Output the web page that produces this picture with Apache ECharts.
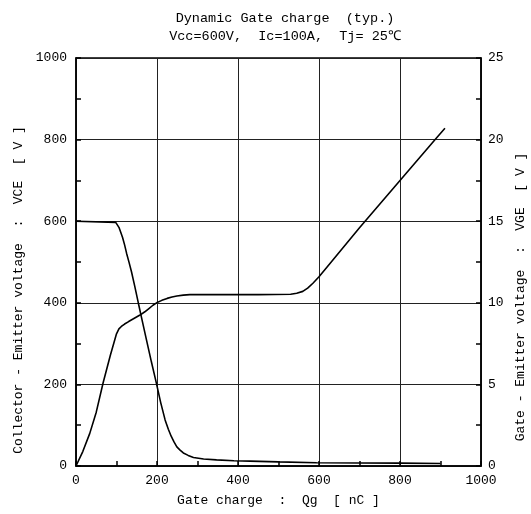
<!DOCTYPE html>
<html style="height: 100%; margin: 0;">
<head>
<meta charset="utf-8" />
<title>Dynamic Gate charge</title>
<script src="https://cdn.jsdelivr.net/npm/echarts@6/dist/echarts.min.js"></script>
</head>
<body style="height: 100%; margin: 0; background: #fff;">
<div id="main" style="width: 531px; height: 514px;"></div>
<script type="text/javascript">
// VCE (left axis, V) vs gate charge (nC)
var vceQg = [0, 98, 102, 106, 110, 115, 120, 125, 131, 137, 145, 154, 164, 174, 186, 198, 209, 220, 228, 235, 242, 249, 257, 265, 277, 290, 315, 347, 390, 430, 500, 594, 700, 800, 900];
var vceVal = [600, 597, 593, 585, 574, 560, 542, 521, 499, 476, 441, 399, 354, 309, 256, 205, 156, 113, 90, 73, 59, 47, 39, 32, 26, 21, 17, 15, 13, 12, 10, 8, 7.5, 7, 6];
// VGE (right axis, V) vs gate charge (nC)
var vgeQg = [0, 17, 34, 50, 67, 85, 100, 106, 112, 120, 130, 144, 158, 170, 180, 190, 199, 212, 225, 237, 249, 265, 281, 350, 450, 530, 545, 560, 572, 585, 600, 620, 700, 800, 890, 911];
var vgeVal = [0, 0.9, 2.0, 3.3, 5.1, 6.8, 8.1, 8.4, 8.55, 8.7, 8.85, 9.05, 9.25, 9.45, 9.65, 9.85, 10.0, 10.15, 10.27, 10.35, 10.42, 10.47, 10.5, 10.5, 10.5, 10.52, 10.58, 10.7, 10.9, 11.2, 11.6, 12.2, 14.6, 17.5, 20.1, 20.7];

function pairs(xs, ys) {
  var out = [];
  for (var i = 0; i < xs.length; i++) out.push([xs[i], ys[i]]);
  return out;
}
function plain(v) { return String(v); }

var font = 'Liberation Mono';
var tickStyle = { color: '#000', width: 1.5 };
var myChart = echarts.init(document.getElementById('main'));
myChart.setOption({
  backgroundColor: '#fff',
  animation: false,
  title: {
    text: 'Dynamic Gate charge  (typ.)\nVcc=600V,  Ic=100A,  Tj= 25\u2103',
    left: 280,
    textAlign: 'center',
    top: 4,
    textStyle: { fontFamily: font, fontSize: 13.5, fontWeight: 'normal', color: '#000', lineHeight: 18 }
  },
  grid: { left: 76, right: 50, top: 58, bottom: 48, outerBoundsMode: 'none', show: true, borderColor: '#000', borderWidth: 1.5 },
  xAxis: {
    type: 'value', min: 0, max: 1000, interval: 200,
    name: 'Gate charge  :  Qg  [ nC ]', nameLocation: 'middle', nameGap: 28,
    nameTextStyle: { fontFamily: font, fontSize: 13, color: '#000' },
    axisLine: { lineStyle: { color: '#000', width: 1.5 } },
    axisTick: { show: true, inside: true, length: 5, lineStyle: tickStyle },
    minorTick: { show: true, splitNumber: 2, length: 5, lineStyle: tickStyle },
    axisLabel: { fontFamily: font, fontSize: 13, color: '#000', margin: 8, formatter: plain },
    splitLine: { show: true, lineStyle: { color: '#222', width: 1 } }
  },
  yAxis: [{
    type: 'value', min: 0, max: 1000, interval: 200, position: 'left',
    name: 'Collector - Emitter voltage  :  VCE  [ V ]', nameLocation: 'middle', nameGap: 38, nameRotate: 90,
    nameTextStyle: { fontFamily: font, fontSize: 13, color: '#000', padding: [0, 56, 0, 0] },
    axisLine: { show: true, lineStyle: { color: '#000', width: 1.5 } },
    axisTick: { show: true, inside: true, length: 5, lineStyle: tickStyle },
    minorTick: { show: true, splitNumber: 2, length: 5, lineStyle: tickStyle },
    axisLabel: { fontFamily: font, fontSize: 13, color: '#000', margin: 9, formatter: plain },
    splitLine: { show: true, lineStyle: { color: '#222', width: 1 } }
  }, {
    type: 'value', min: 0, max: 25, interval: 5, position: 'right',
    name: 'Gate - Emitter voltage  :  VGE  [ V ]', nameLocation: 'middle', nameGap: 32, nameRotate: 90,
    nameTextStyle: { fontFamily: font, fontSize: 13, color: '#000', padding: [0, 70, 0, 0] },
    axisLine: { show: true, lineStyle: { color: '#000', width: 1.5 } },
    axisTick: { show: true, inside: true, length: 5, lineStyle: tickStyle },
    minorTick: { show: true, splitNumber: 2, length: 5, lineStyle: tickStyle },
    axisLabel: { fontFamily: font, fontSize: 13, color: '#000', margin: 7, formatter: plain },
    splitLine: { show: false }
  }],
  series: [{
    name: 'VCE', type: 'line', yAxisIndex: 0, showSymbol: false, smooth: false,
    lineStyle: { color: '#000', width: 1.6 },
    data: pairs(vceQg, vceVal)
  }, {
    name: 'VGE', type: 'line', yAxisIndex: 1, showSymbol: false, smooth: false,
    lineStyle: { color: '#000', width: 1.6 },
    data: pairs(vgeQg, vgeVal)
  }]
});
window.onresize = myChart.resize;
</script>
</body>
</html>
